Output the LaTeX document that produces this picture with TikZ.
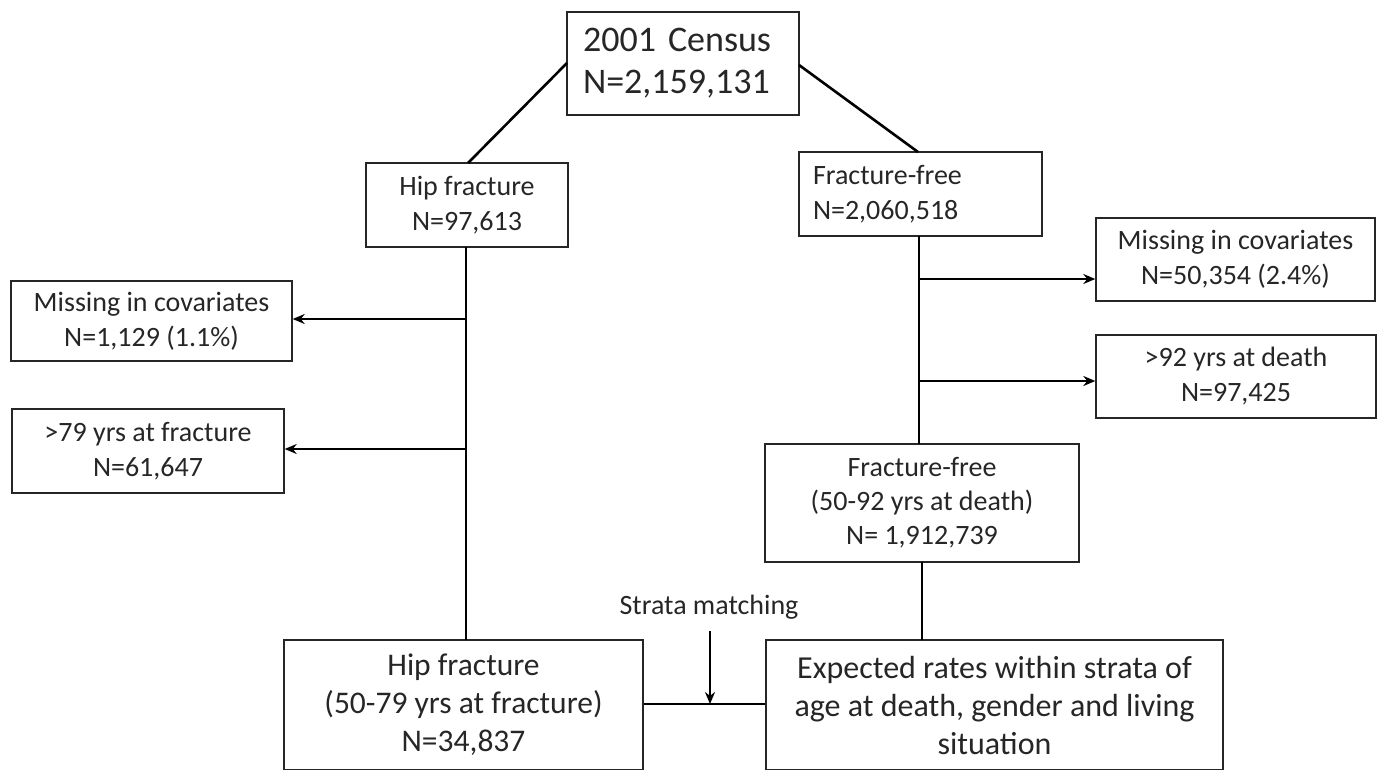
\documentclass[tikz,border=0pt]{standalone}
\usepackage{fontspec}
\setmainfont{Carlito}
\usetikzlibrary{arrows.meta}
\begin{document}
\begin{tikzpicture}[x=1pt,y=-1pt,
  box/.style={draw=black!85, line width=1.4pt, inner sep=0pt, align=center,
    font=\fontsize{28}{35}\selectfont, text=black!85},
  conn/.style={line width=2.6pt, black},
  arr/.style={conn, -{Stealth[length=12pt,width=10pt]}}]
\useasboundingbox (0,0) rectangle (1384,769);
% nodes
\node[box, minimum width=232, minimum height=103, font=\fontsize{36}{42}\selectfont,
  text width=200, align=left] (census) at (683,63.5) {2001 Census\\N=2,159,131};
\node[box, minimum width=202, minimum height=84] (hip) at (467,205) {Hip fracture\\N=97,613};
\node[box, minimum width=243, minimum height=84, text width=215, align=left] (ff) at (920.5,194) {Fracture-free\\N=2,060,518};
\node[box, minimum width=281, minimum height=80] (missL) at (151.5,321) {Missing in covariates\\N=1,129 (1.1\%)};
\node[box, minimum width=272, minimum height=84] (ageL) at (148,451) {>79 yrs at fracture\\N=61,647};
\node[box, minimum width=279, minimum height=83] (missR) at (1235.5,259.5) {Missing in covariates\\N=50,354 (2.4\%)};
\node[box, minimum width=280, minimum height=83] (ageR) at (1236,376.5) {>92 yrs at death\\N=97,425};
\node[box, minimum width=314, minimum height=118, font=\fontsize{28}{34}\selectfont] (ff2) at (922,503) {Fracture-free\\(50-92 yrs at death)\\N= 1,912,739};
\node[box, minimum width=359, minimum height=130, font=\fontsize{31.5}{38}\selectfont] (hip2) at (463.5,705) {Hip fracture\\(50-79 yrs at fracture)\\N=34,837};
\node[box, minimum width=457, minimum height=130, font=\fontsize{32}{38}\selectfont] (exp) at (994.5,705) {Expected rates within strata of\\age at death, gender and living\\situation};
\node[font=\fontsize{28}{32}\selectfont, text=black!85, inner sep=0pt] (strata) at (709,607) {Strata matching};
% helper coordinates
\coordinate (cl) at (567,63);
\coordinate (cr) at (799,65);
\coordinate (hipT) at (468,163);
\coordinate (ffT) at (918,152);
\coordinate (hipB) at (466,247);
\coordinate (hip2T) at (466,640);
\coordinate (j1) at (466,319);
\coordinate (j2) at (466,449);
\coordinate (ffB) at (919,236);
\coordinate (ff2T) at (919,444);
\coordinate (j3) at (919,279);
\coordinate (j4) at (919,381);
\coordinate (ff2B) at (922,562);
\coordinate (expT) at (922,640);
\coordinate (sTop) at (710,631);
\coordinate (sBot) at (710,704);
% connectors
\draw[conn] (cl) -- (hipT);
\draw[conn] (cr) -- (ffT);
\draw[conn] (hipB) -- (hip2T);
\draw[arr] (j1) -- (missL.east |- j1);
\draw[arr] (j2) -- (ageL.east |- j2);
\draw[conn] (ffB) -- (ff2T);
\draw[arr] (j3) -- (missR.west |- j3);
\draw[arr] (j4) -- (ageR.west |- j4);
\draw[conn] (ff2B) -- (expT);
\draw[conn] (hip2.east |- sBot) -- (exp.west |- sBot);
\draw[arr] (sTop) -- (sBot);
\end{tikzpicture}
\end{document}
